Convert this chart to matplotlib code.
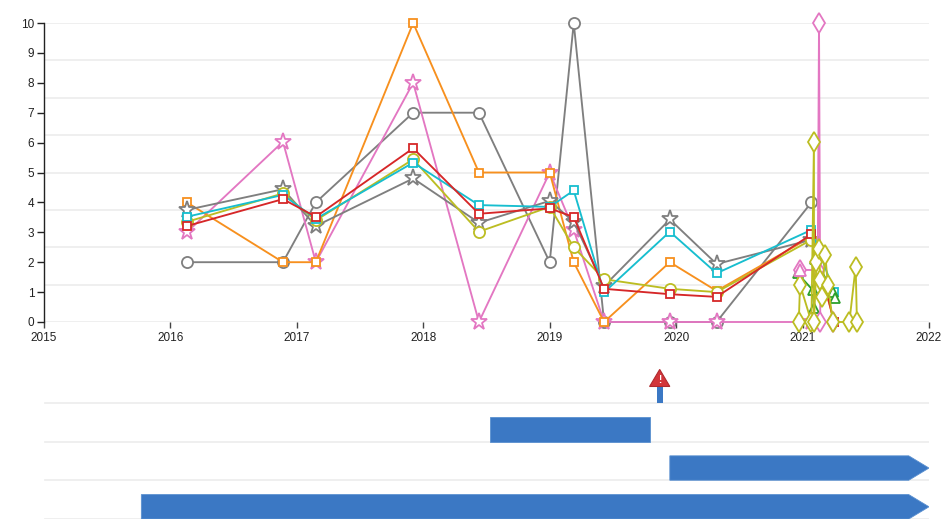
import matplotlib
matplotlib.use("Agg")
import matplotlib.pyplot as plt
from matplotlib.patches import Polygon, Rectangle
import numpy as np

plt.rcParams['font.family'] = ['Liberation Sans', 'DejaVu Sans']

# ---------------- data ----------------
t_main = [2016.13, 2016.89, 2017.15, 2017.92, 2018.44, 2019.0, 2019.19, 2019.43, 2019.95, 2020.32, 2021.07]

gray_circle = [2, 2, 4, 7, 7, 2, 10, 0, 0, 0, 4]
gray_star = [3.75, 4.44, 3.21, 4.8, 3.32, 4.05, 3.35, 1.2, 3.43, 1.94, 2.75]
olive_circle = [3.35, 4.3, 3.4, 5.44, 3.02, 3.85, 2.5, 1.43, 1.11, 1.0, 2.75]
pink_star = [3.0, 6.03, 2.0, 8.0, 0, 5.0, 3.08, 0, 0, 0, 0]

t_ext = t_main + [2021.25]
orange_sq = [4, 2, 2, 10, 5, 5, 2, 0, 2, 1.04, 2.85, 0]
red_sq = [3.21, 4.11, 3.52, 5.81, 3.62, 3.8, 3.51, 1.11, 0.93, 0.84, 2.93, 0]
cyan_sq = [3.52, 4.25, 3.45, 5.33, 3.91, 3.85, 4.4, 0.99, 3.02, 1.63, 3.08, 1.0]

pink_d_t = [2020.98, 2021.12, 2021.13, 2021.14, 2021.24]
pink_d_v = [1.74, 1.74, 10, 0, 0]

green_t = [2020.96, 2021.08, 2021.09, 2021.10, 2021.24, 2021.26]
green_v = [1.63, 1.07, 0.47, 2.1, 1.01, 0.8]

yellow_t = [2020.97, 2020.98, 2021.07, 2021.09, 2021.09, 2021.11, 2021.13, 2021.14,
            2021.15, 2021.18, 2021.20, 2021.24, 2021.37, 2021.42, 2021.43]
yellow_v = [0, 1.25, 0, 6.03, 0, 2.0, 2.45, 1.4, 0.85, 2.24, 1.24, 0, 0, 1.85, 0]

years = [2015, 2016, 2017, 2018, 2019, 2020, 2021, 2022]
y_ticks = list(range(0, 11))

# timeline
bar_rows = [1, 2, 3]
bar_starts = [2018.53, 2019.95, 2015.77]
bar_ends = [2019.79, 2022.0, 2022.0]
bar_open = [False, True, True]
event_dates = [2019.87]

# ---------------- figure ----------------
W, H = 947, 532
fig = plt.figure(figsize=(W / 100, H / 100), dpi=100)

def fx(px):
    return px / W

def fy(py):
    return 1 - py / H

ax = fig.add_axes([fx(44), fy(322), fx(929) - fx(44), fy(23) - fy(322)])
ax.set_xlim(2015, 2022)
ax.set_ylim(0, 10)
for g in np.arange(0, 10.01, 1.25):
    ax.axhline(g, color='#ececec', lw=1.2, zorder=0)

GRAY = '#7f7f7f'
ORANGE = '#f7901e'
RED = '#d62728'
CYAN = '#17becf'
OLIVE = '#bcbd22'
PINK = '#e377c2'
GREEN = '#2ca02c'

common = dict(lw=1.35, mfc='white', mew=1.3, clip_on=False)

ax.plot(t_main, gray_circle, color=GRAY, marker='o', ms=8, zorder=3, **common)
ax.plot(t_main, pink_star, color=PINK, marker='*', ms=12.5, zorder=3, **common)
ax.plot(t_ext, orange_sq, color=ORANGE, marker='s', ms=6.3, zorder=4, **common)
ax.plot(t_main, gray_star, color=GRAY, marker='*', ms=12.5, zorder=4, **common)
ax.plot(t_main, olive_circle, color=OLIVE, marker='o', ms=8, zorder=4, **common)
ax.plot(t_ext, cyan_sq, color=CYAN, marker='s', ms=6.3, zorder=5, **common)
ax.plot(t_ext, red_sq, color=RED, marker='s', ms=6.3, zorder=6, **common)
ax.plot(green_t, green_v, color=GREEN, marker='^', ms=7, zorder=6, **common)
ax.plot(pink_d_t, pink_d_v, color=PINK, marker='d', ms=10, zorder=7, **common)
ax.plot(pink_d_t[:1], pink_d_v[:1], color=PINK, marker='^', ms=8, ls='none',
        mfc='white', mew=1.3, zorder=8, clip_on=False)
ax.plot(yellow_t, yellow_v, color=OLIVE, marker='d', ms=10, zorder=7, **common)

for s in ['top', 'right', 'bottom']:
    ax.spines[s].set_visible(False)
ax.spines['left'].set_color('#222222')
ax.spines['left'].set_linewidth(1.0)
ax.set_xticks(years)
ax.set_xticklabels([str(y) for y in years])
ax.set_yticks(y_ticks)
ax.tick_params(axis='y', length=5, width=1, color='#222222', labelsize=8.5, pad=2, labelcolor='#222222')
ax.tick_params(axis='x', length=4, width=1, color='#444444', labelsize=8.5, pad=3, labelcolor='#222222')

# ---------------- timeline ----------------
ax2 = fig.add_axes([fx(44), fy(519), fx(929) - fx(44), fy(364) - fy(519)])
ax2.set_xlim(2015, 2022)
ax2.set_ylim(0, 4)
ax2.axis('off')
for r in range(4):
    ax2.axhline(r, xmin=0.001, xmax=1.0, color='#ececec', lw=1.2, zorder=0)

BLUE = '#3b78c4'
head = 0.16
bar_h = 0.63
for row, s, e, op in zip(bar_rows, bar_starts, bar_ends, bar_open):
    y0 = 3 - row
    if op:
        pts = [(s, y0), (e - head, y0), (e, y0 + bar_h / 2), (e - head, y0 + bar_h), (s, y0 + bar_h)]
    else:
        pts = [(s, y0), (e, y0), (e, y0 + bar_h), (s, y0 + bar_h)]
    ax2.add_patch(Polygon(pts, closed=True, facecolor=BLUE, edgecolor='#5a90d0', lw=0.6, zorder=2))

for d in event_dates:
    stem_w = 0.045
    ax2.add_patch(Rectangle((d - stem_w / 2, 3.0), stem_w, 0.42, facecolor=BLUE, edgecolor='none', zorder=3))
    tri_w = 0.16
    ax2.add_patch(Polygon([(d - tri_w / 2, 3.42), (d + tri_w / 2, 3.42), (d, 3.86)],
                          closed=True, facecolor='#d2353a', edgecolor='#b02a2e', lw=0.8, zorder=4,
                          clip_on=False))
    ax2.text(d, 3.58, '!', color='white', fontsize=7, fontweight='bold', ha='center', va='center', zorder=5)

fig.savefig('out.png', dpi=100)
